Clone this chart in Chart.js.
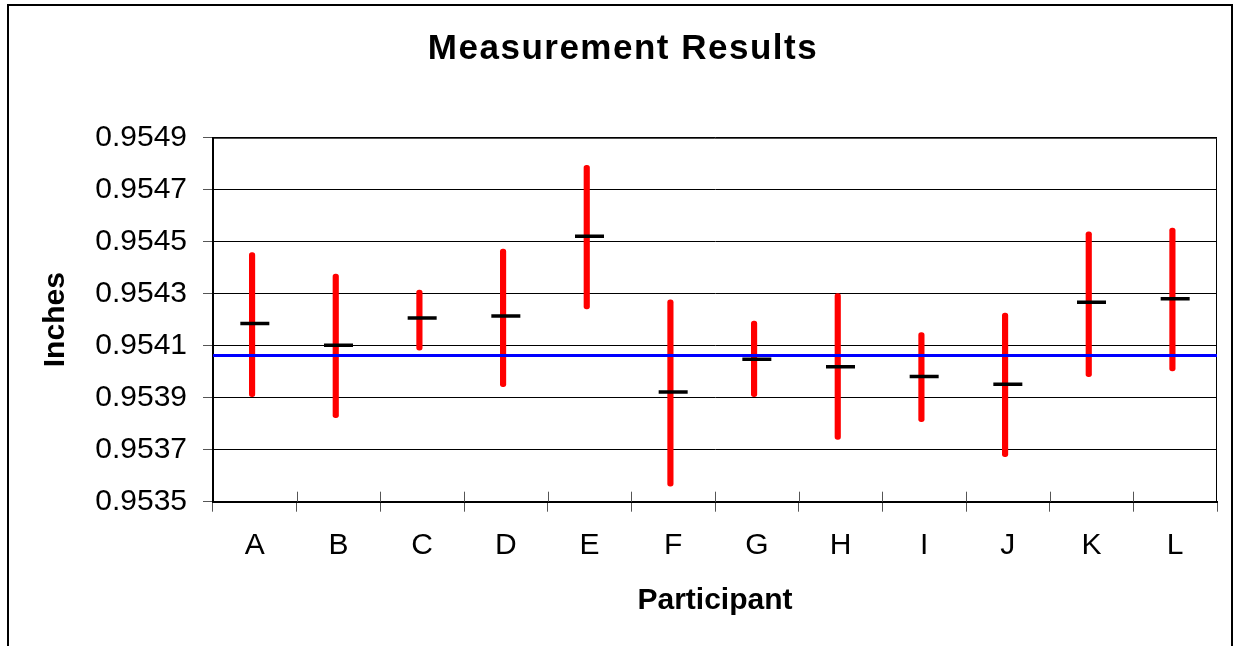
<!DOCTYPE html>
<html>
<head>
<meta charset="utf-8">
<script src="https://cdn.jsdelivr.net/npm/chart.js@4.4.0/dist/chart.umd.min.js"></script>
<style>
  html, body { margin: 0; padding: 0; background: #fff; }
  #wrap { position: relative; width: 1236px; height: 646px; }
</style>
</head>
<body>
<div id="wrap"><canvas id="myChart" width="1236" height="646"></canvas></div>
<script>
// participants along the x axis
var participants = ['A', 'B', 'C', 'D', 'E', 'F', 'G', 'H', 'I', 'J', 'K', 'L'];
// mean result of each participant
var means = [0.954185, 0.954102, 0.954207, 0.954214, 0.954521, 0.953922,
             0.954048, 0.954019, 0.953982, 0.953952, 0.954267, 0.954281];
// low / high ends of each red bar
var lows  = [0.953904, 0.953823, 0.954083, 0.953942, 0.954241, 0.953560,
             0.953904, 0.953740, 0.953808, 0.953673, 0.953981, 0.954003];
var highs = [0.954458, 0.954375, 0.954314, 0.954472, 0.954794, 0.954276,
             0.954195, 0.954300, 0.954150, 0.954225, 0.954538, 0.954552];
// reference value (blue line)
var reference = 0.954062;
// y axis ticks
var yTicks = [0.9535, 0.9537, 0.9539, 0.9541, 0.9543, 0.9545, 0.9547, 0.9549];
var chartTitle = 'Measurement Results';

var font = "'Liberation Sans', Arial, sans-serif";

//outer frame, plot frame, title, inner halves of the x ticks
const framePlugin = {
  id: 'frame',
  beforeDraw(chart) {
    const ctx = chart.ctx;
    ctx.save();
    ctx.fillStyle = '#fff';
    ctx.fillRect(0, 0, chart.width, chart.height);
    ctx.strokeStyle = '#000';
    ctx.lineWidth = 2;
    ctx.strokeRect(8, 5, 1224, 700);
    //title, drawn here so it can get a bit of letter spacing like the original
    ctx.fillStyle = '#000';
    ctx.font = "bold 35px " + font;
    ctx.letterSpacing = '1.5px';
    ctx.textAlign = 'center';
    ctx.textBaseline = 'middle';
    ctx.fillText(chartTitle, 623, 49);
    ctx.restore();
  },
  beforeDatasetsDraw(chart) {
    const a = chart.chartArea, ctx = chart.ctx, xs = chart.scales.x;
    ctx.save();
    ctx.strokeStyle = '#000';
    ctx.lineWidth = 1;
    ctx.beginPath();
    ctx.moveTo(a.left, a.top + 0.5);
    ctx.lineTo(a.right - 0.5, a.top + 0.5);
    ctx.lineTo(a.right - 0.5, a.bottom);
    ctx.stroke();
    ctx.strokeStyle = '#555';
    ctx.beginPath();
    for (let i = 1; i < participants.length; i++) {
      const x = Math.round((xs.getPixelForValue(i - 1) + xs.getPixelForValue(i)) / 2) + 0.5;
      ctx.moveTo(x, a.bottom - 10);
      ctx.lineTo(x, a.bottom);
    }
    ctx.stroke();
    ctx.restore();
  }
};

const chartData = {
  labels: participants,
  datasets: [
    {
      type: 'line',
      label: 'Mean',
      data: means,
      showLine: false,
      pointStyle: 'line',
      pointRadius: 14.5,
      pointBorderWidth: 3.5,
      pointBorderColor: '#000',
      pointBackgroundColor: '#000',
      order: 0
    },
    {
      type: 'line',
      label: 'Reference',
      data: [{x: 0, y: reference}, {x: 1, y: reference}],
      xAxisID: 'x2',
      borderColor: '#0000ff',
      borderWidth: 3,
      pointRadius: 0,
      order: 1
    },
    {
      type: 'bar',
      label: 'Range',
      data: participants.map((p, i) => [lows[i], highs[i]]),
      backgroundColor: '#ff0000',
      barThickness: 5.5,
      borderRadius: 3,
      borderSkipped: false,
      order: 2
    }
  ]
};

const chartConfig = {
  type: 'bar',
  data: chartData,
  plugins: [framePlugin],
  options: {
    responsive: false,
    animation: false,
    layout: { padding: { left: 0, right: 19, top: 137.7, bottom: 0 } },
    plugins: {
      legend: { display: false },
      tooltip: { enabled: false },
      title: { display: false }
    },
    scales: {
      x: {
        type: 'category',
        offset: true,
        grid: { offset: true, drawOnChartArea: false, drawTicks: true, tickLength: 10, tickColor: '#555' },
        border: { color: '#000', width: 2 },
        ticks: { color: '#000', font: { family: font, size: 30 }, padding: 16 },
        title: {
          display: true,
          text: 'Participant',
          color: '#000',
          font: { family: font, size: 30, weight: 'bold' },
          padding: { top: 0, bottom: 27 }
        },
        afterFit(scale) { scale.height = 144.3; }
      },
      x2: {
        type: 'linear',
        display: false,
        offset: false,
        min: 0,
        max: 1
      },
      y: {
        type: 'linear',
        min: 0.9535,
        max: 0.9549,
        grid: { color: '#000', lineWidth: 1, tickLength: 10, tickColor: '#555' },
        border: { color: '#000', width: 2 },
        afterBuildTicks(scale) { scale.ticks = yTicks.map(v => ({ value: v })); },
        ticks: {
          color: '#000',
          font: { family: font, size: 30 },
          padding: 16,
          callback: v => v.toFixed(4)
        },
        title: {
          display: true,
          text: 'Inches',
          color: '#000',
          font: { family: font, size: 30, weight: 'bold' },
          padding: { top: 38, bottom: 0 }
        },
        afterFit(scale) { scale.width = 213; }
      }
    }
  }
};

const myChart = new Chart(document.getElementById('myChart'), chartConfig);
</script>
</body>
</html>
